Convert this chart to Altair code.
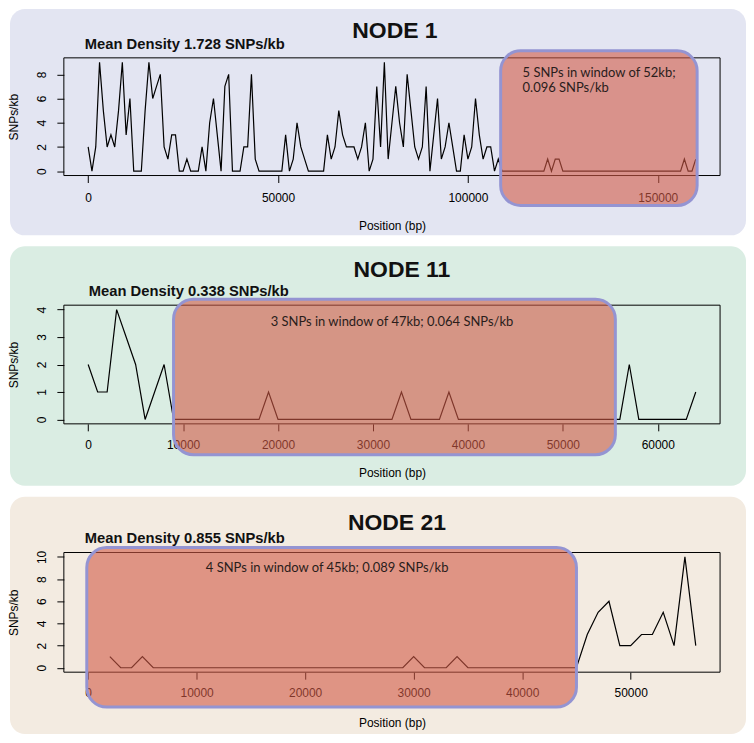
import altair as alt
import pandas as pd

# ---------------- data ----------------
node1_snps = [2, 0, 2, 9, 5, 2, 3, 2, 5, 9,
              3, 6, 0, 0, 0, 5, 9, 6, 7, 8,
              2, 1, 3, 3, 0, 0, 1, 0, 0, 0,
              2, 0, 4, 6, 3, 0, 7, 8, 0, 0,
              0, 2, 2, 8, 1, 0, 0, 0, 0, 0,
              0, 0, 3, 0, 1, 4, 2, 1, 0, 0,
              0, 0, 0, 3, 1, 2, 5, 3, 2, 2,
              2, 1, 2, 4, 0, 1, 7, 2, 9, 1,
              4, 7, 4, 2, 8, 5, 2, 1, 2, 7,
              0, 3, 6, 1, 2, 4, 2, 0, 0, 3,
              1, 2, 6, 3, 1, 2, 2, 0, 1, 0,
              0, 0, 0, 0, 0, 0, 0, 0, 0, 0,
              0, 1, 0, 1, 1, 0, 0, 0, 0, 0,
              0, 0, 0, 0, 0, 0, 0, 0, 0, 0,
              0, 0, 0, 0, 0, 0, 0, 0, 0, 0,
              0, 0, 0, 0, 0, 0, 0, 1, 0, 0,
              1]
node1_pos = list(range(0, 161000, 1000))

node11_snps = [2, 1, 1, 4, 3, 2, 0, 1, 2, 0,
               0, 0, 0, 0, 0, 0, 0, 0, 0, 1,
               0, 0, 0, 0, 0, 0, 0, 0, 0, 0,
               0, 0, 0, 1, 0, 0, 0, 0, 1, 0,
               0, 0, 0, 0, 0, 0, 0, 0, 0, 0,
               0, 0, 0, 0, 0, 0, 0, 2, 0, 0,
               0, 0, 0, 0, 1]
node11_pos = list(range(0, 65000, 1000))

node21_snps = [1, 0, 0, 1, 0, 0, 0, 0, 0, 0,
               0, 0, 0, 0, 0, 0, 0, 0, 0, 0,
               0, 0, 0, 0, 0, 0, 0, 0, 1, 0,
               0, 0, 1, 0, 0, 0, 0, 0, 0, 0,
               0, 0, 0, 0, 3, 5, 6, 2, 2, 3,
               3, 5, 2, 10, 2]
node21_pos = list(range(2000, 57000, 1000))

titles = ["NODE 1", "NODE 11", "NODE 21"]
mean_labels = ["Mean Density 1.728 SNPs/kb",
               "Mean Density 0.338 SNPs/kb",
               "Mean Density 0.855 SNPs/kb"]
window_labels = ["5 SNPs in window of 52kb;\n0.096 SNPs/kb",
                 "3 SNPs in window of 47kb; 0.064 SNPs/kb",
                 "4 SNPs in window of 45kb; 0.089 SNPs/kb"]
x_ticks = [[0, 50000, 100000, 150000],
           [0, 10000, 20000, 30000, 40000, 50000, 60000],
           [0, 10000, 20000, 30000, 40000, 50000]]
y_ticks = [[0, 2, 4, 6, 8], [0, 1, 2, 3, 4], [0, 2, 4, 6, 8, 10]]
x_domains = [[-6400, 166400], [-2560, 66560], [-2240, 58240]]
y_domains = [[-0.36, 9.36], [-0.16, 4.16], [-0.4, 10.4]]

series = [(node1_pos, node1_snps), (node11_pos, node11_snps), (node21_pos, node21_snps)]

# ---------------- layout / style ----------------
bg_colors = ["#E3E5F2", "#DAEDE3", "#F3EBE1"]
PANEL_W = 738
layouts = [
    dict(h=227, fx=(54, 712), fy=(49, 167), title=(386, 22), mean=(75, 36),
         box=(492, 689, 42, 197), wtext=(514, 58, "left", "top"), lpad=15, ttly=50),
    dict(h=240, fx=(54, 712), fy=(59, 178), title=(393, 24), mean=(79, 46),
         box=(164, 607, 53, 209), wtext=(383, 76, "center", "middle"), lpad=14, ttly=49),
    dict(h=238, fx=(54, 712), fy=(56, 176), title=(388, 26), mean=(75, 42),
         box=(77, 568, 51, 211), wtext=(318, 72, "center", "middle"), lpad=13, ttly=50),
]

FONT = "Liberation Sans"


def one(val, key="t"):
    return alt.Chart(pd.DataFrame({key: [val]}))


def panel(i):
    L = layouts[i]
    pos, vals = series[i]
    df = pd.DataFrame({"pos": pos, "snps": vals})
    fx0, fx1 = L["fx"]
    fy0, fy1 = L["fy"]

    xaxis = alt.Axis(values=x_ticks[i], format="d", title="Position (bp)",
                     offset=fy1 - L["h"], tickSize=7, tickColor="black",
                     labelPadding=L["lpad"], labelBaseline="middle",
                     labelFont=FONT, labelFontSize=12, labelColor="black",
                     labelFlush=False, labelOverlap=False,
                     titleFont=FONT, titleFontSize=12, titleFontWeight="normal",
                     titleColor="black", titleX=(fx0 + fx1) / 2, titleY=L["ttly"],
                     titleBaseline="middle", titleAlign="center",
                     domain=False, grid=False)
    yaxis = alt.Axis(values=y_ticks[i], format="d", title="SNPs/kb",
                     offset=-fx0, tickSize=7, tickColor="black",
                     labelAngle=270, labelAlign="center", labelBaseline="middle",
                     labelPadding=15, labelFont=FONT, labelFontSize=12,
                     labelColor="black", labelFlush=False, labelOverlap=False,
                     titleFont=FONT, titleFontSize=12, titleFontWeight="normal",
                     titleColor="black", titleAngle=270, titleX=4 - fx0,
                     titleY=(fy0 + fy1) / 2, titleAlign="center",
                     titleBaseline="middle", domain=False, grid=False)

    frame = one(0).mark_rect(fillOpacity=0, stroke="black", strokeWidth=1).encode(
        x=alt.value(fx0), x2=alt.value(fx1), y=alt.value(fy0), y2=alt.value(fy1))

    line = alt.Chart(df).mark_line(color="black", strokeWidth=1.2).encode(
        x=alt.X("pos:Q", axis=xaxis,
                scale=alt.Scale(domain=x_domains[i], range=[fx0, fx1], nice=False, zero=False)),
        y=alt.Y("snps:Q", axis=yaxis,
                scale=alt.Scale(domain=y_domains[i], range=[fy1, fy0], nice=False, zero=False)),
    )

    bx0, bx1, by0, by1 = L["box"]
    box = one(0).mark_rect(fill="#D25A46", fillOpacity=0.6, stroke="#9494D2",
                           strokeWidth=3, cornerRadius=20).encode(
        x=alt.value(bx0), x2=alt.value(bx1), y=alt.value(by0), y2=alt.value(by1))

    wx, wy, walign, wbase = L["wtext"]
    wtext = one(window_labels[i]).mark_text(font="Lato", fontSize=13, color="#2a1d1b",
                                            align=walign, baseline=wbase,
                                            lineBreak="\n", lineHeight=15).encode(
        x=alt.value(wx), y=alt.value(wy), text="t:N")

    tx, ty = L["title"]
    title = one(titles[i]).mark_text(font=FONT, fontSize=23, fontWeight="bold",
                                     color="#111111", align="center",
                                     baseline="middle").encode(
        x=alt.value(tx), y=alt.value(ty), text="t:N")

    mx, my = L["mean"]
    mean = one(mean_labels[i]).mark_text(font=FONT, fontSize=14.8, fontWeight="bold",
                                         color="#111111", align="left",
                                         baseline="middle").encode(
        x=alt.value(mx), y=alt.value(my), text="t:N")

    return alt.layer(frame, line, box, wtext, title, mean).properties(
        width=PANEL_W, height=L["h"],
        view=alt.ViewBackground(fill=bg_colors[i], cornerRadius=15, strokeWidth=0),
    )


chart = alt.vconcat(panel(0), panel(1), panel(2), spacing=11).properties(
    padding=0, background="white"
).configure_view(strokeWidth=0)

chart.save("out.html", embed_options={"renderer": "svg", "actions": False})
